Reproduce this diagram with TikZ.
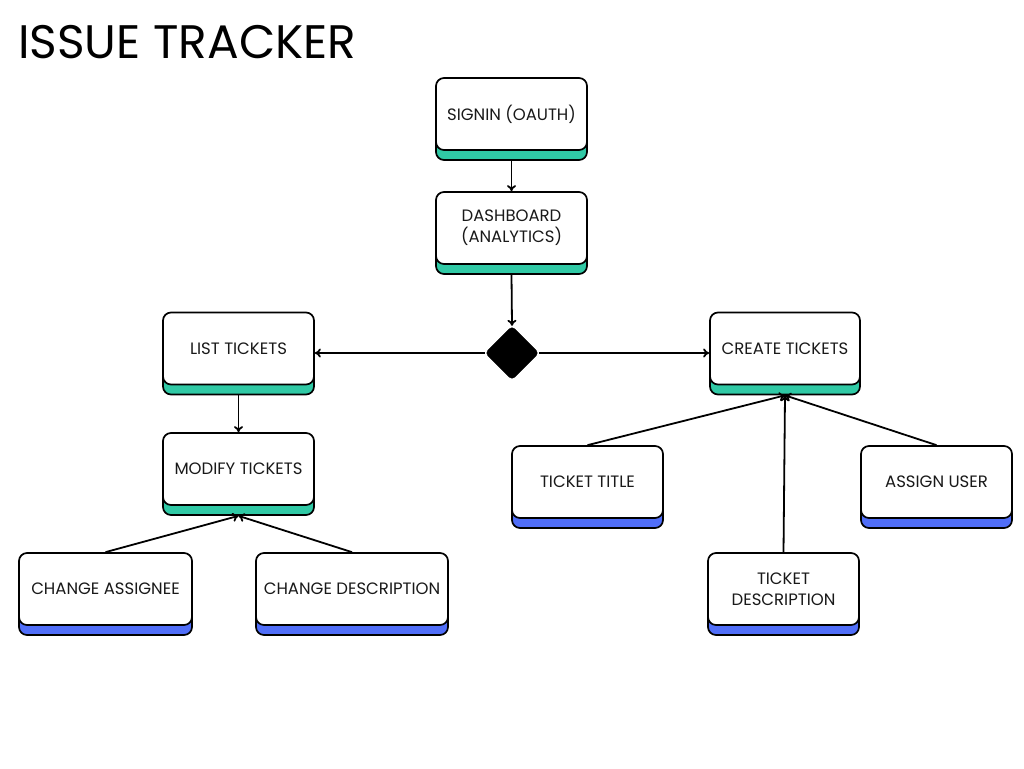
\documentclass[tikz,border=0pt]{standalone}
\usepackage{fontspec}
\setmainfont{Poppins}
\usetikzlibrary{shapes.geometric,shadows,calc,arrows.meta}
\definecolor{tgreen}{RGB}{48,201,165}
\definecolor{tblue}{RGB}{80,110,248}
\definecolor{ink}{RGB}{25,25,25}
\tikzset{
  box/.style={draw=black, line width=1.7pt, fill=white, rounded corners=8pt,
    minimum height=72pt, inner sep=2pt, align=center, font=\fontsize{16.5}{21}\selectfont, text=ink},
  gbox/.style={box, general shadow={draw=black, line width=1.7pt, fill=tgreen, shadow yshift=-10pt}},
  bbox/.style={box, general shadow={draw=black, line width=1.7pt, fill=tblue, shadow yshift=-10pt}},
  arr/.style={line width=1.8pt, -{To[length=6pt,width=9pt]}},
}
\begin{document}
\begin{tikzpicture}[x=1pt,y=1pt]
\useasboundingbox (0,0) rectangle (1024,-768);
\node[anchor=west, font=\fontsize{47}{54}\selectfont, text=black, inner sep=0pt] (title) at (18,-42) {ISSUE TRACKER};

\node[gbox, minimum width=151pt] (signin) at (511.5,-114) {SIGNIN (OAUTH)};
\node[gbox, minimum width=151pt] (dash) at (511.5,-228) {DASHBOARD\\(ANALYTICS)};
\node[gbox, minimum width=151pt] (list) at (238.5,-348.5) {LIST TICKETS};
\node[gbox, minimum width=150pt] (create) at (785,-348.5) {CREATE TICKETS};
\node[gbox, minimum width=151pt] (modify) at (238.5,-469) {MODIFY TICKETS};
\node[bbox, minimum width=173pt] (chass) at (105.5,-589) {CHANGE ASSIGNEE};
\node[bbox, minimum width=192pt] (chdesc) at (352,-589) {CHANGE DESCRIPTION};
\node[bbox, minimum width=151pt] (ttitle) at (587.5,-482) {TICKET TITLE};
\node[bbox, minimum width=151pt] (assign) at (936.5,-482) {ASSIGN USER};
\node[bbox, minimum width=151pt] (tdesc) at (783.5,-589) {TICKET\\DESCRIPTION};

\node[diamond, fill=black, draw=black, rounded corners=4pt, minimum width=54pt, minimum height=54pt, inner sep=0pt] (dia) at (512,-353) {};

\coordinate (signinB) at ($(signin.south)+(0,-10)$);
\coordinate (dashB) at ($(dash.south)+(0,-10)$);
\coordinate (listB) at ($(list.south)+(0,-10)$);
\coordinate (modifyB) at ($(modify.south)+(0,-10)$);
\coordinate (createB) at ($(create.south)+(0,-10)$);

\draw[arr] (signinB) -- (dash.north);
\draw[arr] (dashB) -- (dia.north);
\draw[arr] (dia.west) -- (list.east |- dia.west);
\draw[arr] (dia.east) -- (create.west |- dia.east);
\draw[arr] (listB) -- (modify.north);
\draw[arr] (chass.north) -- (modifyB);
\draw[arr] (chdesc.north) -- (modifyB);
\draw[arr] (ttitle.north) -- (createB);
\draw[arr] (tdesc.north) -- (createB);
\draw[arr] (assign.north) -- (createB);
\end{tikzpicture}
\end{document}
